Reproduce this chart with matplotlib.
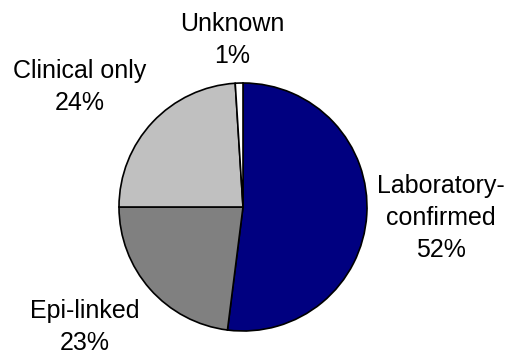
import matplotlib
matplotlib.use("Agg")
import matplotlib.pyplot as plt

categories = ["Laboratory-\nconfirmed", "Epi-linked", "Clinical only", "Unknown"]
shares = [52, 23, 24, 1]
colors = ["#000080", "#808080", "#C0C0C0", "#FFFFFF"]

W, H = 509, 356
fig = plt.figure(figsize=(W / 100, H / 100), dpi=100)
ax = fig.add_axes([0, 0, 1, 1])

cx, cy, r = 243, H - 207, 124
ax.pie(shares, colors=colors, startangle=90, counterclock=False,
       center=(cx, cy), radius=r, frame=True,
       wedgeprops=dict(edgecolor="black", linewidth=1.2))
ax.set_xlim(0, W)
ax.set_ylim(0, H)
ax.set_aspect("equal")
ax.axis("off")

label_pos = [(441, H - 218), (85, H - 327), (80, H - 87), (232, H - 40)]
for name, val, (lx, ly) in zip(categories, shares, label_pos):
    ax.text(lx, ly, f"{name}\n{val}%", ha="center", va="center",
            fontsize=18, family="Liberation Sans", linespacing=1.42,
            color="black")

fig.savefig("out.png", dpi=100)
